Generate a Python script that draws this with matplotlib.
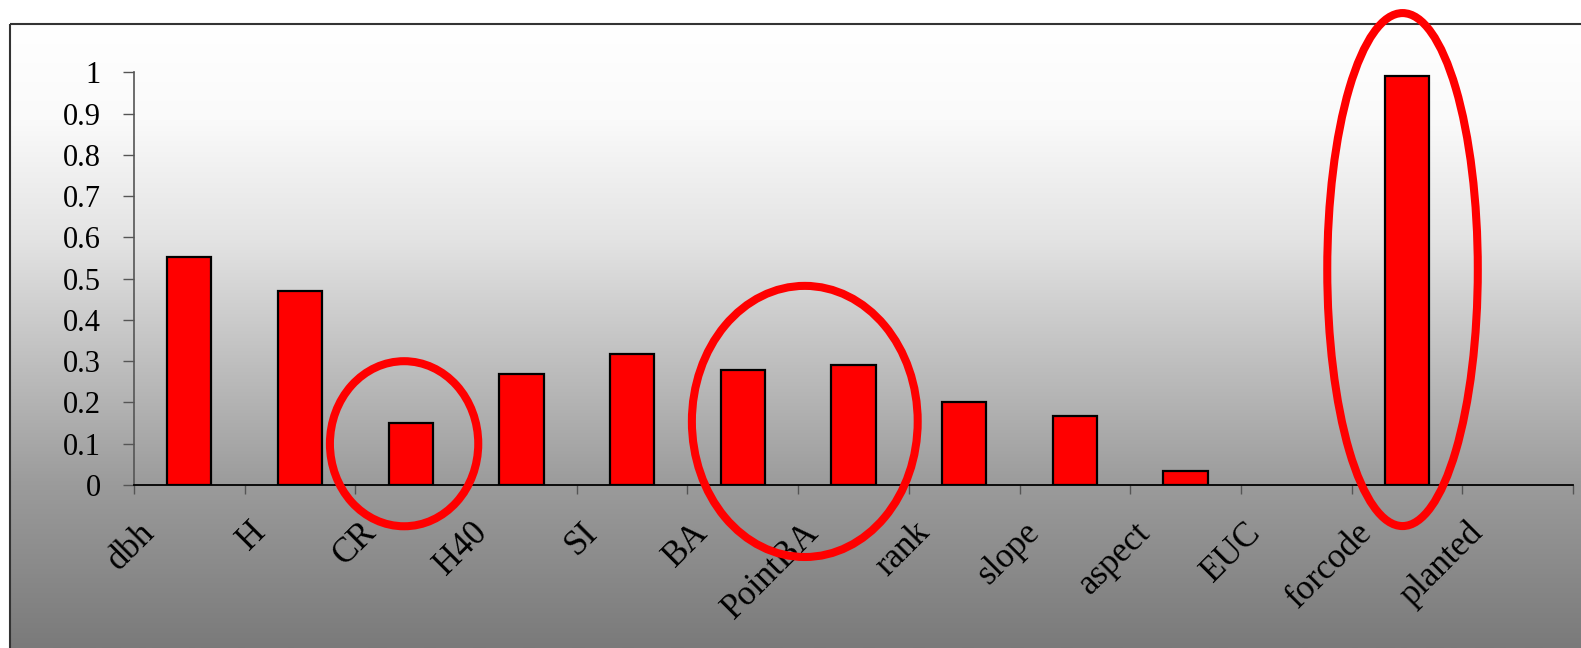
import matplotlib.pyplot as plt
import numpy as np
from matplotlib.patches import Ellipse, Rectangle
from matplotlib.transforms import ScaledTranslation

# 变量重要性
categories = ['dbh', 'H', 'CR', 'H40', 'SI', 'BA', 'PointBA', 'rank',
              'slope', 'aspect', 'EUC', 'forcode', 'planted']
values = [0.553, 0.469, 0.150, 0.268, 0.318, 0.279, 0.290, 0.201,
          0.167, 0.034, 0.0, 0.990, 0.0]
y_ticks = [0, 0.1, 0.2, 0.3, 0.4, 0.5, 0.6, 0.7, 0.8, 0.9, 1]
y_tick_labels = ['0', '0.1', '0.2', '0.3', '0.4', '0.5', '0.6', '0.7', '0.8', '0.9', '1']

# 圈出的重点变量: (中心x, 中心y, 宽, 高)
highlights = [
    (1.94, 0.100, 1.34, 0.40),
    (5.56, 0.154, 2.04, 0.657),
    (10.96, 0.522, 1.36, 1.243),
]

W, H = 1581, 648
plt.rcParams['font.family'] = ['Liberation Serif', 'DejaVu Serif']
fig = plt.figure(figsize=(W / 100, H / 100), dpi=100)

# 背景渐变 + 边框
bg = fig.add_axes([0, 0, 1, 1], zorder=-1)
bg.set_xlim(0, W)
bg.set_ylim(H, 0)
bg.axis('off')
rows = np.arange(24, H + 1)
gray = np.interp(rows, [24, 120, 240, 300, 485, 648], [255, 250, 227, 209, 155, 122]) / 255
grad = np.repeat(gray[:, None, None], 3, axis=2)
bg.imshow(grad, extent=(10, W + 10, H, 24), aspect='auto', interpolation='bilinear')
bg.add_patch(Rectangle((10, 24), W, H, fill=False, edgecolor='#333333', linewidth=1.5))

# 柱状图
ax = fig.add_axes([134 / W, 1 - 485 / H, (1573 - 134) / W, (485 - 72.3) / H])
ax.patch.set_visible(False)
x = np.arange(len(categories))
lw = [1.6 if v > 0 else 0 for v in values]
ax.bar(x, values, width=0.4, color='#ff0000', edgecolor='black', linewidth=lw, zorder=3)

ax.set_xlim(-0.5, len(categories) - 0.5)
ax.set_ylim(0, 1)
ax.set_yticks(y_ticks)
ax.set_yticklabels(y_tick_labels, fontsize=22)
ax.set_xticks(np.arange(len(categories) + 1) - 0.5)
ax.set_xticklabels([])
ax.tick_params(axis='y', direction='out', length=8, width=1, color='#555555', pad=16)
ax.tick_params(axis='x', direction='out', length=6.5, width=1, color='#555555')

for s in ['top', 'right']:
    ax.spines[s].set_visible(False)
ax.spines['left'].set_color('#555555')
ax.spines['left'].set_linewidth(1.2)
ax.spines['bottom'].set_color('black')
ax.spines['bottom'].set_linewidth(1.3)

# 旋转的类别标签
offset = ScaledTranslation(-28 / 100, -31 / 100, fig.dpi_scale_trans)
for i, name in enumerate(categories):
    ax.text(i, 0, name, transform=ax.get_xaxis_transform() + offset,
            rotation=45, ha='right', va='top', fontsize=25, zorder=4)

# 红色椭圆
for cx, cy, w, h in highlights:
    ax.add_patch(Ellipse((cx, cy), w, h, fill=False, edgecolor='#ff0000',
                         linewidth=5.8, clip_on=False, zorder=5))

plt.savefig('out.png', dpi=100)
plt.close()
